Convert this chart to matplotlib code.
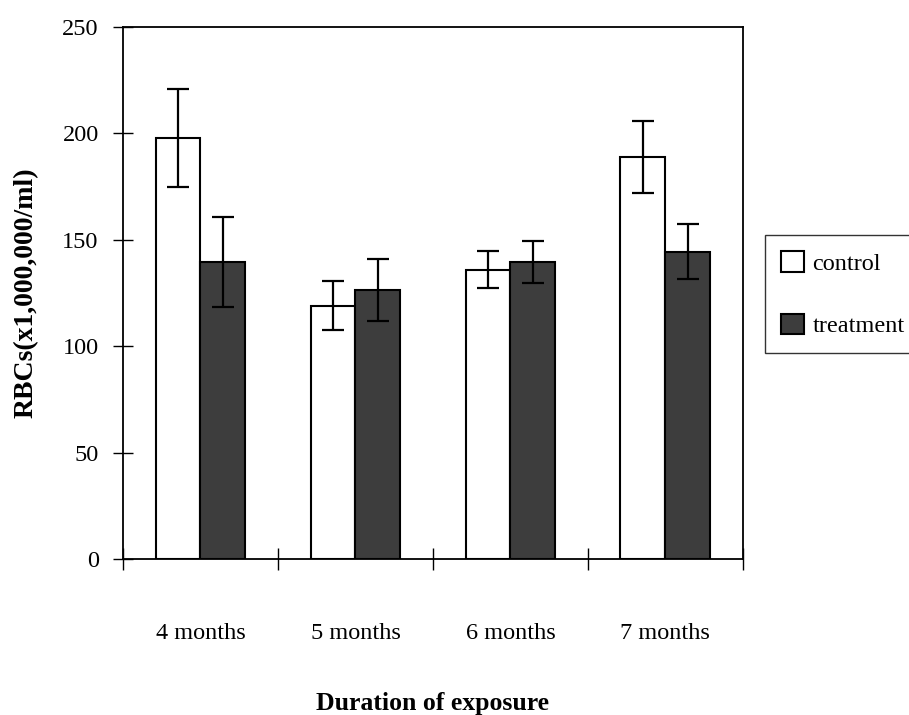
import numpy as np
import matplotlib
matplotlib.use("Agg")
import matplotlib.pyplot as plt

plt.rcParams["font.family"] = "Liberation Serif"

# Data
categories = ["4 months", "5 months", "6 months", "7 months"]
control = [198, 119, 136, 189]
control_err = [23, 11.5, 8.7, 17]
treatment = [139.5, 126.5, 139.5, 144.5]
treatment_err = [21, 14.5, 10, 13]

fig = plt.figure(figsize=(9.09, 7.15), dpi=100)
ax = fig.add_axes([0.1353, 0.2182, 0.682, 0.7440])

ind = np.arange(len(categories))
width = 0.29

err_style = dict(ecolor="black", elinewidth=1.6, capsize=8, capthick=1.6)
b1 = ax.bar(ind - width / 2, control, width, color="white", edgecolor="black",
            linewidth=1.5, yerr=control_err, error_kw=err_style, label="control")
b2 = ax.bar(ind + width / 2, treatment, width, color="#3d3d3d", edgecolor="black",
            linewidth=1.5, yerr=treatment_err, error_kw=err_style, label="treatment")

ax.set_xlim(-0.5, len(categories) - 0.5)
ax.set_ylim(0, 250)
ax.set_yticks([0, 50, 100, 150, 200, 250])

# category boundaries get tick marks, labels sit at the centres
ax.set_xticks(np.arange(len(categories) + 1) - 0.5)
ax.set_xticklabels([])
ax.set_xticks(ind, minor=True)
ax.set_xticklabels(categories, minor=True, fontsize=17.5)
ax.tick_params(axis="x", which="minor", length=0, pad=46)
ax.tick_params(axis="x", which="major", direction="inout", length=16, width=1)
ax.tick_params(axis="y", direction="inout", length=15, width=1, pad=10, labelsize=17.5)

for sp in ax.spines.values():
    sp.set_linewidth(1.3)

ax.set_ylabel("RBCs(x1,000,000/ml)", fontsize=20, fontweight="bold", labelpad=17)
ax.set_xlabel("Duration of exposure", fontsize=18.5, fontweight="bold", labelpad=35)

leg = fig.legend(handles=[b1, b2], loc="upper left",
                 bbox_to_anchor=(765 / 909, 1 - 235 / 715), fontsize=17.5,
                 frameon=True, fancybox=False, edgecolor="black",
                 handlelength=0.95, handleheight=0.95, handletextpad=0.35,
                 labelspacing=1.6, borderpad=0.65, borderaxespad=0)
leg.get_frame().set_linewidth(1.0)

plt.savefig("out.png", dpi=100)
